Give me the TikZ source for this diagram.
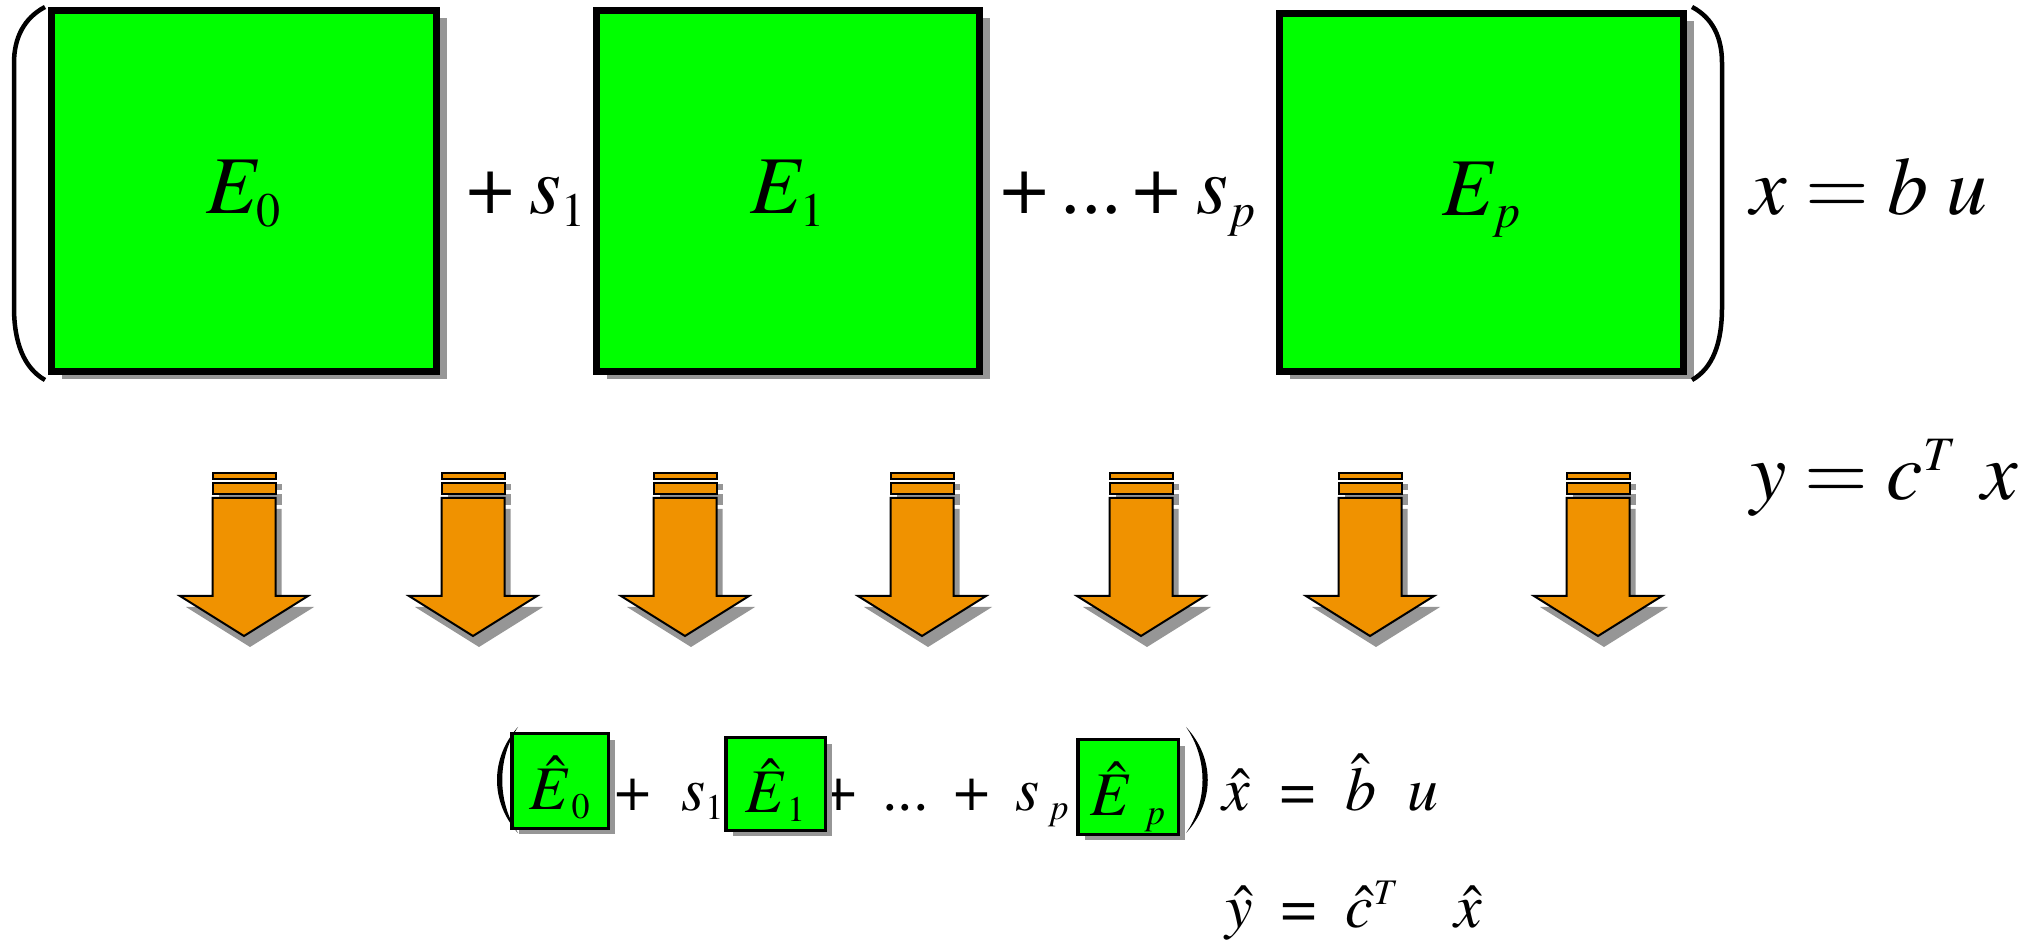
\documentclass[tikz,border=0pt]{standalone}
\usepackage[T1]{fontenc}
\usepackage{mathptmx}
\usetikzlibrary{positioning,shadows}

\DeclareMathSizes{82}{82}{48}{36}
\DeclareMathSizes{62}{62}{36}{27}

\definecolor{boxgreen}{RGB}{0,255,0}
\definecolor{arroworange}{RGB}{240,146,0}
\definecolor{shadowgray}{RGB}{150,150,150}

\begin{document}
\begin{tikzpicture}[x=1pt,y=1pt,
  bigbox/.style={draw,fill=boxgreen,line width=7pt,inner sep=0pt,
  minimum width=385pt,minimum height=361pt,
  font=\fontsize{82}{98}\selectfont,text height=54pt,text depth=8pt,
  drop shadow={shadow xshift=10pt,shadow yshift=-8pt,fill=shadowgray,opacity=1}},
  smallbox/.style={draw,fill=boxgreen,line width=3.5pt,inner sep=0pt,
  font=\fontsize{62}{74}\selectfont,text height=74pt,text depth=17pt,
  drop shadow={shadow xshift=7pt,shadow yshift=-6pt,fill=shadowgray,opacity=1}},
  bigeq/.style={inner sep=0pt,font=\fontsize{82}{98}\selectfont},
  smalleq/.style={inner sep=0pt,font=\fontsize{62}{74}\selectfont},
  paren/.style={line width=4.5pt},
  arrowpart/.style={draw=black,line width=2pt,fill=arroworange,
  drop shadow={shadow xshift=6pt,shadow yshift=-11pt,fill=shadowgray,opacity=1}}
]
\path[use as bounding box,fill=white] (0,0) rectangle (2032,943);

\foreach \cx in {244,473,685,922,1141,1370,1598} {
  \filldraw[arrowpart] (\cx-31.5,464) rectangle (\cx+31.5,470);
  \filldraw[arrowpart] (\cx-31.5,449) rectangle (\cx+31.5,460);
  \filldraw[arrowpart] (\cx-31.5,445) -- (\cx+31.5,445) -- (\cx+31.5,347) -- (\cx+64,347)
    -- (\cx,307) -- (\cx-64,347) -- (\cx-31.5,347) -- cycle;
}

\node[bigbox] (e0) at (244,752) {$E_0$};
\node[bigbox,minimum width=383pt] (e1) at (788,752) {$E_1$};
\node[bigbox,minimum width=404pt,minimum height=358pt] (ep) at (1481.5,750.5) {$E_p$};
\node[bigeq,base right=27pt of e0] (plusone) {+\hspace{0.2em}$s_1$};
\node[bigeq,base right=18pt of e1] (plusp)
  {+\hspace{0.16em}...\hspace{0.14em}+\hspace{0.2em}$s_p$};
\node[bigeq,anchor=base west] (eqx) at (1750,728) {$x=b\;u$};
\node[bigeq,anchor=base west] (eqy) at (1750,443) {$y=c^{T}\hspace{0.3em}x$};
\draw[paren] (45,936) .. controls (24,925) and (14,905) .. (14,880) -- (14,636)
  .. controls (14,600) and (24,575) .. (45,563);
\draw[paren] (1692,936) .. controls (1713,925) and (1722,905) .. (1722,880) -- (1722,636)
  .. controls (1722,600) and (1713,575) .. (1692,563);

\node[smalleq,anchor=base west] (plusonehat) at (615,133) {+\hspace{0.5em}$s_1$};
\node[smalleq,anchor=base west] (plusphat) at (821,133)
  {+\hspace{0.42em}...\hspace{0.42em}+\hspace{0.42em}$s_{\;p}$};
\node[smallbox,minimum width=96.5pt,minimum height=94.5pt] (e0hat) at (560,162) {$\hat{E}_{\,0}$};
\node[smallbox,minimum width=99.5pt,minimum height=92.5pt] (e1hat) at (775.5,159) {$\hat{E}_{\,1}$};
\node[smallbox,minimum width=100.5pt,minimum height=94.5pt] (ephat) at (1128,156) {$\hat{E}_{\;\;p}$};
\node[smalleq,anchor=base west] (eqxhat) at (1222,133)
  {$\hat{x}$\hspace{0.5em}=\hspace{0.48em}$\hat{b}$\hspace{0.5em}$u$};
\node[smalleq,anchor=base west] (eqyhat) at (1225,16)
  {$\hat{y}$\hspace{0.46em}=\hspace{0.48em}$\hat{c}^{T}$\hspace{0.9em}$\hat{x}$};
\fill (518,216) .. controls (490,185) and (490,141) .. (518,110)
  .. controls (497,141) and (497,185) .. (518,216) -- cycle;
\fill (1186,216) .. controls (1215,185) and (1215,141) .. (1186,110)
  .. controls (1208,141) and (1208,185) .. (1186,216) -- cycle;
\end{tikzpicture}
\end{document}
